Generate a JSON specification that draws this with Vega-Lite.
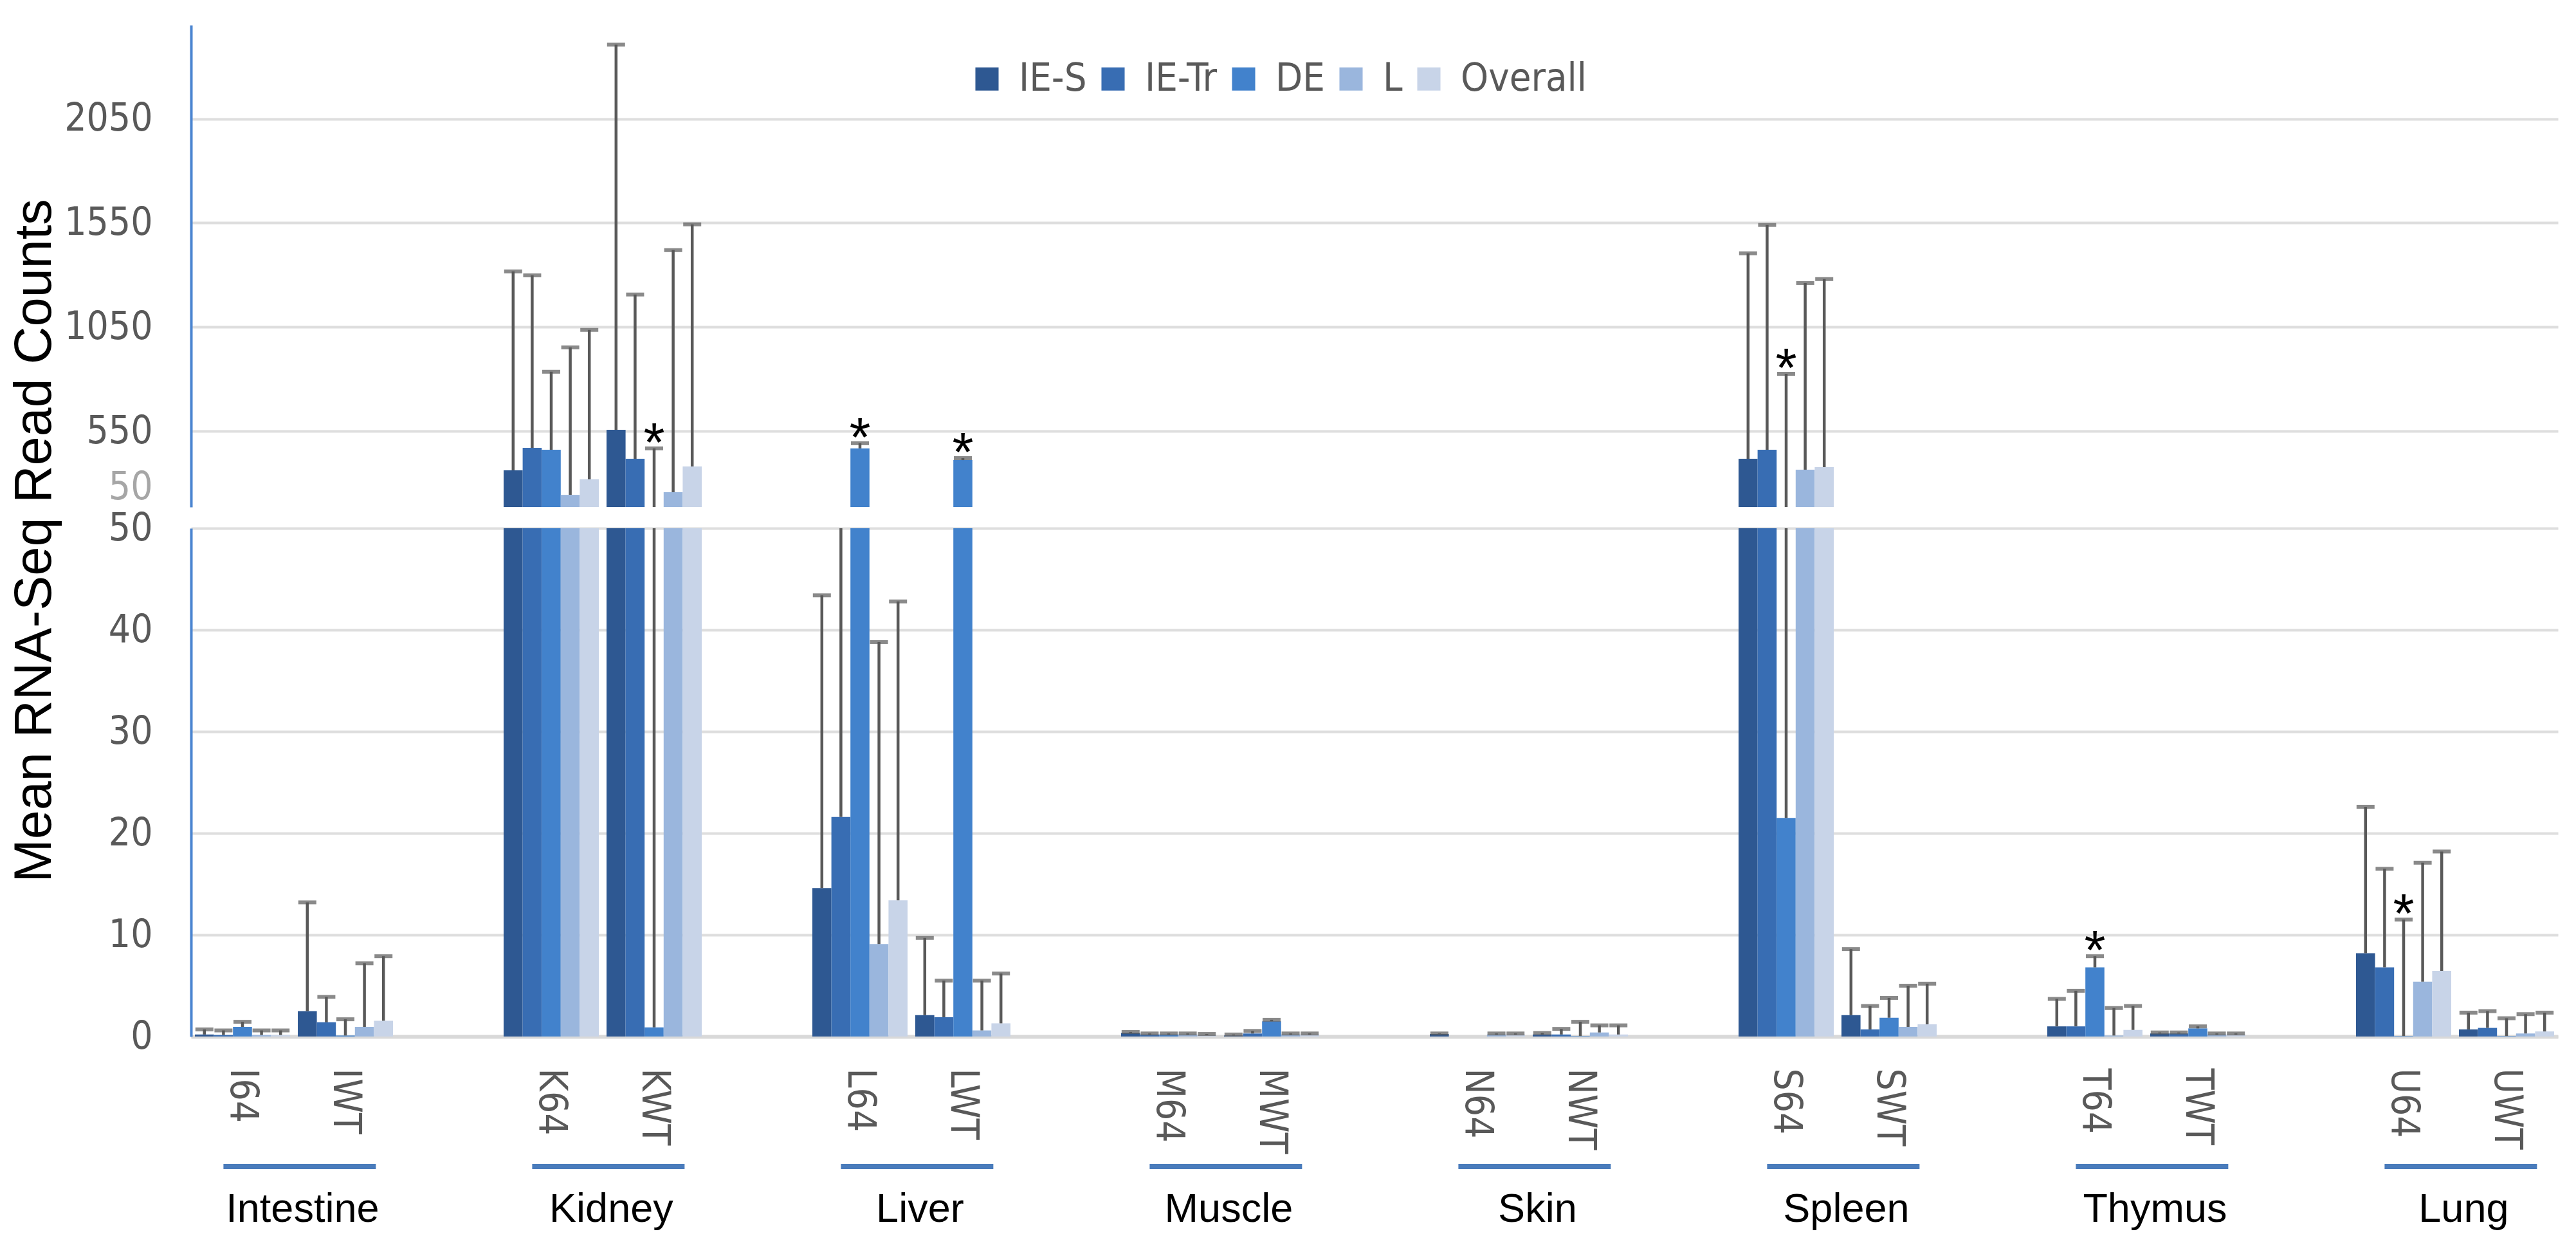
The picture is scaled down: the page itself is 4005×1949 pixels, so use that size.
{
  "$schema": "https://vega.github.io/schema/vega-lite/v6.json",
  "background": "white",
  "padding": {"left": 12, "top": 39, "right": 30, "bottom": 10},
  "config": {
    "view": {"stroke": null},
    "axis": {"labelOverlap": false, "labelBound": false, "labelFlush": false}
  },
  "datasets": {
    "bars": [
      {"cat": "I64", "series": "IE-S", "v": 0.2, "hi": 0.7},
      {"cat": "I64", "series": "IE-Tr", "v": 0.15, "hi": 0.6},
      {"cat": "I64", "series": "DE", "v": 0.95, "hi": 1.45},
      {"cat": "I64", "series": "L", "v": 0.15, "hi": 0.6},
      {"cat": "I64", "series": "Overall", "v": 0.15, "hi": 0.6},
      {"cat": "IWT", "series": "IE-S", "v": 2.5, "hi": 13.2},
      {"cat": "IWT", "series": "IE-Tr", "v": 1.4, "hi": 3.9},
      {"cat": "IWT", "series": "DE", "v": 0.1, "hi": 1.7},
      {"cat": "IWT", "series": "L", "v": 0.95, "hi": 7.2},
      {"cat": "IWT", "series": "Overall", "v": 1.55, "hi": 7.9},
      {"cat": "K64", "series": "IE-S", "v": 291, "hi": 1317},
      {"cat": "K64", "series": "IE-Tr", "v": 440, "hi": 1298},
      {"cat": "K64", "series": "DE", "v": 427, "hi": 835},
      {"cat": "K64", "series": "L", "v": 130, "hi": 952},
      {"cat": "K64", "series": "Overall", "v": 232, "hi": 1036},
      {"cat": "KWT", "series": "IE-S", "v": 556, "hi": 2406},
      {"cat": "KWT", "series": "IE-Tr", "v": 368, "hi": 1206},
      {"cat": "KWT", "series": "DE", "v": 0.9, "hi": 436, "sig": true},
      {"cat": "KWT", "series": "L", "v": 147, "hi": 1419},
      {"cat": "KWT", "series": "Overall", "v": 317, "hi": 1543},
      {"cat": "L64", "series": "IE-S", "v": 14.6, "hi": 43.4},
      {"cat": "L64", "series": "IE-Tr", "v": 21.6, "hi": 50},
      {"cat": "L64", "series": "DE", "v": 436, "hi": 470, "sig": true},
      {"cat": "L64", "series": "L", "v": 9.1, "hi": 38.8},
      {"cat": "L64", "series": "Overall", "v": 13.4, "hi": 42.8},
      {"cat": "LWT", "series": "IE-S", "v": 2.1, "hi": 9.7},
      {"cat": "LWT", "series": "IE-Tr", "v": 1.9, "hi": 5.5},
      {"cat": "LWT", "series": "DE", "v": 359, "hi": 372, "sig": true},
      {"cat": "LWT", "series": "L", "v": 0.6, "hi": 5.5},
      {"cat": "LWT", "series": "Overall", "v": 1.3, "hi": 6.2},
      {"cat": "M64", "series": "IE-S", "v": 0.35, "hi": 0.45},
      {"cat": "M64", "series": "IE-Tr", "v": 0.2, "hi": 0.3},
      {"cat": "M64", "series": "DE", "v": 0.2, "hi": 0.3},
      {"cat": "M64", "series": "L", "v": 0.2, "hi": 0.3},
      {"cat": "M64", "series": "Overall", "v": 0.15, "hi": 0.25},
      {"cat": "MWT", "series": "IE-S", "v": 0.1, "hi": 0.2},
      {"cat": "MWT", "series": "IE-Tr", "v": 0.3, "hi": 0.55},
      {"cat": "MWT", "series": "DE", "v": 1.5, "hi": 1.65},
      {"cat": "MWT", "series": "L", "v": 0.2, "hi": 0.3},
      {"cat": "MWT", "series": "Overall", "v": 0.2, "hi": 0.3},
      {"cat": "N64", "series": "IE-S", "v": 0.25, "hi": 0.3},
      {"cat": "N64", "series": "IE-Tr", "v": 0, "hi": null},
      {"cat": "N64", "series": "DE", "v": 0, "hi": null},
      {"cat": "N64", "series": "L", "v": 0.2, "hi": 0.3},
      {"cat": "N64", "series": "Overall", "v": 0.2, "hi": 0.3},
      {"cat": "NWT", "series": "IE-S", "v": 0.2, "hi": 0.35},
      {"cat": "NWT", "series": "IE-Tr", "v": 0.2, "hi": 0.75},
      {"cat": "NWT", "series": "DE", "v": 0.05, "hi": 1.45},
      {"cat": "NWT", "series": "L", "v": 0.4, "hi": 1.1},
      {"cat": "NWT", "series": "Overall", "v": 0.2, "hi": 1.1},
      {"cat": "S64", "series": "IE-S", "v": 368, "hi": 1404},
      {"cat": "S64", "series": "IE-Tr", "v": 427, "hi": 1540},
      {"cat": "S64", "series": "DE", "v": 21.5, "hi": 825, "sig": true},
      {"cat": "S64", "series": "L", "v": 296, "hi": 1261},
      {"cat": "S64", "series": "Overall", "v": 313, "hi": 1280},
      {"cat": "SWT", "series": "IE-S", "v": 2.1, "hi": 8.6},
      {"cat": "SWT", "series": "IE-Tr", "v": 0.7, "hi": 3.0},
      {"cat": "SWT", "series": "DE", "v": 1.85, "hi": 3.8},
      {"cat": "SWT", "series": "L", "v": 0.95, "hi": 5.0},
      {"cat": "SWT", "series": "Overall", "v": 1.2, "hi": 5.2},
      {"cat": "T64", "series": "IE-S", "v": 1.0, "hi": 3.7},
      {"cat": "T64", "series": "IE-Tr", "v": 1.0, "hi": 4.5},
      {"cat": "T64", "series": "DE", "v": 6.8, "hi": 7.9, "sig": true},
      {"cat": "T64", "series": "L", "v": 0.1, "hi": 2.8},
      {"cat": "T64", "series": "Overall", "v": 0.65, "hi": 3.0},
      {"cat": "TWT", "series": "IE-S", "v": 0.3, "hi": 0.4},
      {"cat": "TWT", "series": "IE-Tr", "v": 0.3, "hi": 0.4},
      {"cat": "TWT", "series": "DE", "v": 0.8, "hi": 1.0},
      {"cat": "TWT", "series": "L", "v": 0.2, "hi": 0.3},
      {"cat": "TWT", "series": "Overall", "v": 0.2, "hi": 0.3},
      {"cat": "U64", "series": "IE-S", "v": 8.2, "hi": 22.6},
      {"cat": "U64", "series": "IE-Tr", "v": 6.8, "hi": 16.5},
      {"cat": "U64", "series": "DE", "v": 0.05, "hi": 11.5, "sig": true},
      {"cat": "U64", "series": "L", "v": 5.4, "hi": 17.1},
      {"cat": "U64", "series": "Overall", "v": 6.45, "hi": 18.2},
      {"cat": "UWT", "series": "IE-S", "v": 0.7, "hi": 2.35},
      {"cat": "UWT", "series": "IE-Tr", "v": 0.85, "hi": 2.5},
      {"cat": "UWT", "series": "DE", "v": 0.05, "hi": 1.8},
      {"cat": "UWT", "series": "L", "v": 0.3, "hi": 2.2},
      {"cat": "UWT", "series": "Overall", "v": 0.5, "hi": 2.35}
    ],
    "tissues": [
      {"tissue": "Intestine", "a": "I64", "b": "IWT"},
      {"tissue": "Kidney", "a": "K64", "b": "KWT"},
      {"tissue": "Liver", "a": "L64", "b": "LWT"},
      {"tissue": "Muscle", "a": "M64", "b": "MWT"},
      {"tissue": "Skin", "a": "N64", "b": "NWT"},
      {"tissue": "Spleen", "a": "S64", "b": "SWT"},
      {"tissue": "Thymus", "a": "T64", "b": "TWT"},
      {"tissue": "Lung", "a": "U64", "b": "UWT"}
    ]
  },
  "spacing": 16,
  "vconcat": [
    {
      "bounds": "flush",
      "spacing": 33,
      "vconcat": [
        {
          "width": 3680,
          "height": 749,
          "data": {"name": "bars"},
          "resolve": {"axis": {"y": "independent"}},
          "encoding": {
            "x": {"field": "cat", "type": "nominal", "title": null, "axis": null,
              "scale": {"domain": ["I64", "IWT", "gap1", "K64", "KWT", "gap2", "L64", "LWT", "gap3", "M64", "MWT", "gap4", "N64", "NWT", "gap5", "S64", "SWT", "gap6", "T64", "TWT", "gap7", "U64", "UWT"], "paddingInner": 0.075, "paddingOuter": 0.0375}},
            "xOffset": {"field": "series", "type": "nominal",
              "scale": {"domain": ["IE-S", "IE-Tr", "DE", "L", "Overall"], "paddingInner": 0, "paddingOuter": 0}}
          },
          "layer": [
            {
              "mark": {"type": "bar", "clip": true},
              "encoding": {
                "y": {"field": "v", "type": "quantitative", "title": null,
                  "scale": {"domain": [50, 550, 2500], "range": [749, 631, 0], "nice": false, "zero": false},
                  "axis": {
                    "values": [50, 550, 1050, 1550, 2050], "format": "d",
                    "ticks": false,
                    "domainColor": "#4a84d0", "domainWidth": 4,
                    "gridColor": "#dedede", "gridWidth": 4,
                    "gridOpacity": {"condition": {"test": "datum.value == 50", "value": 0}, "value": 1},
                    "labelFont": "Liberation Sans Narrow, DejaVu Sans Condensed, Roboto", "labelFontSize": 60, "labelPadding": 60,
                    "labelColor": {"condition": {"test": "datum.value == 50", "value": "#a6a6a6"}, "value": "#595959"},
                    "labelBaseline": {"condition": {"test": "datum.value == 50", "value": "bottom"}, "value": "middle"}
                  }},
                "color": {"field": "series", "type": "nominal",
                  "scale": {"domain": ["IE-S", "IE-Tr", "DE", "L", "Overall"], "range": ["#2e5892", "#386db3", "#4282cc", "#9ab6dd", "#c8d4e8"]},
                  "legend": {"orient": "none", "legendX": 1207, "legendY": 53, "direction": "horizontal", "title": null,
                    "symbolType": "square", "symbolSize": 1300, "symbolStrokeWidth": 0, "symbolOpacity": 1,
                    "labelFont": "Liberation Sans Narrow, DejaVu Sans Condensed, Roboto", "labelFontSize": 61, "labelColor": "#595959", "labelOffset": 19, "labelLimit": 0,
                    "columnPadding": 10, "padding": 0}}
              }
            },
            {
              "mark": {"type": "rule", "clip": true, "color": "#595959", "strokeWidth": 4.5},
              "encoding": {
                "y": {"field": "v", "type": "quantitative", "title": null, "axis": null,
                  "scale": {"domain": [50, 550, 2500], "range": [749, 631, 0], "nice": false, "zero": false}},
                "y2": {"field": "hi"}
              }
            },
            {
              "transform": [{"filter": "datum.hi > 50"}],
              "mark": {"type": "tick", "clip": true, "color": "#595959", "thickness": 6, "size": 28},
              "encoding": {
                "y": {"field": "hi", "type": "quantitative", "title": null, "axis": null,
                  "scale": {"domain": [50, 550, 2500], "range": [749, 631, 0], "nice": false, "zero": false}}
              }
            },
            {
              "transform": [{"filter": "datum.sig && datum.hi > 50"}],
              "mark": {"type": "text", "text": "*", "clip": true, "font": "Liberation Sans", "fontSize": 85, "color": "black", "dy": -6},
              "encoding": {
                "y": {"field": "hi", "type": "quantitative", "title": null, "axis": null,
                  "scale": {"domain": [50, 550, 2500], "range": [749, 631, 0], "nice": false, "zero": false}}
              }
            }
          ]
        },
        {
          "width": 3680,
          "height": 790,
          "data": {"name": "bars"},
          "resolve": {"axis": {"y": "independent"}},
          "encoding": {
            "x": {"field": "cat", "type": "nominal", "title": null,
              "scale": {"domain": ["I64", "IWT", "gap1", "K64", "KWT", "gap2", "L64", "LWT", "gap3", "M64", "MWT", "gap4", "N64", "NWT", "gap5", "S64", "SWT", "gap6", "T64", "TWT", "gap7", "U64", "UWT"], "paddingInner": 0.075, "paddingOuter": 0.0375},
              "axis": {
                "labelExpr": "indexof(datum.value, 'gap') == 0 ? '' : datum.value",
                "labelAngle": 90, "labelAlign": "left", "labelBaseline": "middle",
                "labelFont": "Liberation Sans Narrow, DejaVu Sans Condensed, Roboto", "labelFontSize": 60, "labelColor": "#595959", "labelPadding": 49,
                "ticks": false, "domainColor": "#d9d9d9", "domainWidth": 6, "grid": false
              }},
            "xOffset": {"field": "series", "type": "nominal",
              "scale": {"domain": ["IE-S", "IE-Tr", "DE", "L", "Overall"], "paddingInner": 0, "paddingOuter": 0}}
          },
          "layer": [
            {
              "mark": {"type": "bar", "clip": true},
              "encoding": {
                "y": {"field": "v", "type": "quantitative",
                  "scale": {"domain": [0, 50], "nice": false},
                  "axis": {
                    "values": [0, 10, 20, 30, 40, 50], "format": "d",
                    "ticks": false,
                    "domainColor": "#4a84d0", "domainWidth": 4,
                    "gridColor": "#dedede", "gridWidth": 4,
                    "labelFont": "Liberation Sans Narrow, DejaVu Sans Condensed, Roboto", "labelFontSize": 60, "labelPadding": 60, "labelColor": "#595959",
                    "titleFont": "Liberation Sans", "titleFontSize": 81, "titleFontWeight": "normal", "titleColor": "black",
                    "titleX": -243, "titleY": 19, "titleAngle": -90, "titleAlign": "center", "titleBaseline": "middle"
                  },
                  "title": "Mean RNA-Seq  Read Counts"},
                "color": {"field": "series", "type": "nominal",
                  "scale": {"domain": ["IE-S", "IE-Tr", "DE", "L", "Overall"], "range": ["#2e5892", "#386db3", "#4282cc", "#9ab6dd", "#c8d4e8"]},
                  "legend": {"orient": "none", "legendX": 1207, "legendY": 53, "direction": "horizontal", "title": null,
                    "symbolType": "square", "symbolSize": 1300, "symbolStrokeWidth": 0, "symbolOpacity": 1,
                    "labelFont": "Liberation Sans Narrow, DejaVu Sans Condensed, Roboto", "labelFontSize": 61, "labelColor": "#595959", "labelOffset": 19, "labelLimit": 0,
                    "columnPadding": 10, "padding": 0}}
              }
            },
            {
              "mark": {"type": "rule", "clip": true, "color": "#595959", "strokeWidth": 4.5},
              "encoding": {
                "y": {"field": "v", "type": "quantitative", "title": null, "axis": null,
                  "scale": {"domain": [0, 50], "nice": false}},
                "y2": {"field": "hi"}
              }
            },
            {
              "transform": [{"filter": "datum.hi < 50"}],
              "mark": {"type": "tick", "clip": true, "color": "#595959", "thickness": 6, "size": 28},
              "encoding": {
                "y": {"field": "hi", "type": "quantitative", "title": null, "axis": null,
                  "scale": {"domain": [0, 50], "nice": false}}
              }
            },
            {
              "transform": [{"filter": "datum.sig && datum.hi < 50"}],
              "mark": {"type": "text", "text": "*", "clip": true, "font": "Liberation Sans", "fontSize": 85, "color": "black", "dy": -6},
              "encoding": {
                "y": {"field": "hi", "type": "quantitative", "title": null, "axis": null,
                  "scale": {"domain": [0, 50], "nice": false}}
              }
            }
          ]
        }
      ]
    },
    {
      "width": 3680,
      "height": 8,
      "data": {"name": "tissues"},
      "layer": [
        {
          "mark": {"type": "rect", "color": "#4a7cbc"},
          "encoding": {
            "x": {"field": "a", "type": "nominal", "bandPosition": 0.3, "title": null, "axis": null,
              "scale": {"domain": ["I64", "IWT", "gap1", "K64", "KWT", "gap2", "L64", "LWT", "gap3", "M64", "MWT", "gap4", "N64", "NWT", "gap5", "S64", "SWT", "gap6", "T64", "TWT", "gap7", "U64", "UWT"], "paddingInner": 0.075, "paddingOuter": 0.0375}},
            "x2": {"field": "b", "bandPosition": 0.82}
          }
        },
        {
          "mark": {"type": "text", "font": "Liberation Sans", "fontSize": 63, "color": "black", "dy": 67, "align": "center", "baseline": "middle"},
          "encoding": {
            "x": {"field": "b", "type": "nominal", "bandPosition": 0.05, "title": null, "axis": null,
              "scale": {"domain": ["I64", "IWT", "gap1", "K64", "KWT", "gap2", "L64", "LWT", "gap3", "M64", "MWT", "gap4", "N64", "NWT", "gap5", "S64", "SWT", "gap6", "T64", "TWT", "gap7", "U64", "UWT"], "paddingInner": 0.075, "paddingOuter": 0.0375}},
            "text": {"field": "tissue"}
          }
        }
      ]
    }
  ]
}
